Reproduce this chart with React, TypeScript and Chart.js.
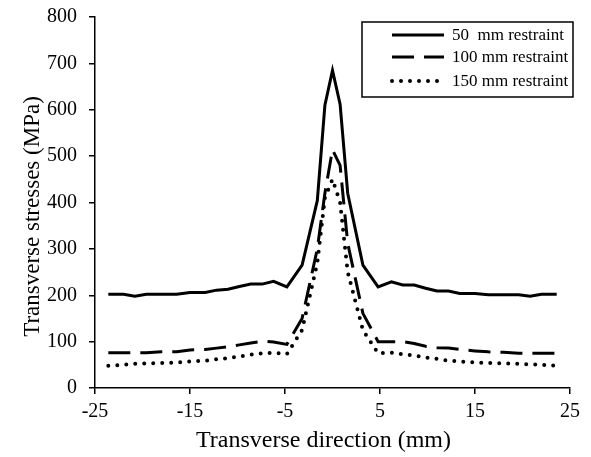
import { useEffect, useRef } from 'react';
import { Chart, registerables } from 'chart.js';

Chart.register(...registerables);

// Transverse position (mm)
const positions = [
  -23.6, -22.0, -20.8, -19.6, -18.0, -16.4, -15.0, -13.4, -12.2, -11.0, -9.8, -8.6, -7.4, -6.2, -4.8, -3.2,
  -1.6, -0.8, 0, 0.8, 1.6, 3.2, 4.8, 6.2, 7.4, 8.6, 9.8, 11.0, 12.2, 13.4, 15.0, 16.4, 18.0, 19.6, 20.8, 22.0,
  23.6,
];
// Transverse stresses (MPa)
const restraint50 = [
  202, 202, 198, 202, 202, 202, 206, 206, 211, 213, 219, 224, 224, 230, 218, 265, 404, 610, 685, 612, 420, 265,
  218, 229, 222, 222, 215, 209, 209, 204, 204, 201, 201, 201, 198, 202, 202,
];
const restraint100 = [
  76, 76, 76, 76, 78, 78, 82, 83, 86, 89, 93, 97, 101, 99, 94, 150, 300, 420, 514, 480, 312, 161, 100, 100, 100,
  96, 90, 87, 86, 83, 80, 78, 77, 75, 75, 75, 75,
];
const restraint150 = [
  48, 50, 52, 53, 54, 55, 57, 59, 62, 64, 68, 72, 75, 76, 73, 125, 270, 410, 450, 400, 250, 125, 75, 76, 73, 70,
  66, 63, 59, 57, 55, 54, 53, 52, 51, 50, 48,
];
const seriesLabels = ['50  mm restraint', '100 mm restraint', '150 mm restraint'];
const xTicks = [-25, -15, -5, 5, 15, 25];
const yTicks = [0, 100, 200, 300, 400, 500, 600, 700, 800];
const xTitle = 'Transverse direction (mm)';
const yTitle = 'Transverse stresses (MPa)';

const FONT = "'Liberation Serif', 'Times New Roman', serif";

const toPoints = (ys: number[]) => positions.map((x, i) => ({ x, y: ys[i] }));

const axisTitles = {
  id: 'axisTitles',
  afterDraw(chart: any) {
    const { ctx, chartArea } = chart;
    ctx.save();
    ctx.fillStyle = '#000';
    ctx.textAlign = 'center';
    ctx.textBaseline = 'middle';
    ctx.font = `24px ${FONT}`;
    ctx.fillText(xTitle, (chartArea.left + chartArea.right) / 2 - 9, chartArea.bottom + 53);
    ctx.translate(chartArea.left - 62, (chartArea.top + chartArea.bottom) / 2 + 14);
    ctx.rotate(-Math.PI / 2);
    ctx.font = `23px ${FONT}`;
    ctx.fillText(yTitle, 0, 0);
    ctx.restore();
  },
};

const boxLegend = {
  id: 'boxLegend',
  afterDraw(chart: any) {
    const { ctx, chartArea } = chart;
    const w = 211;
    const h = 75;
    const left = chartArea.right + 3 - w;
    const top = chartArea.top + 5;
    ctx.save();
    ctx.fillStyle = '#fff';
    ctx.fillRect(left, top, w, h);
    ctx.strokeStyle = '#000';
    ctx.lineWidth = 1.5;
    ctx.setLineDash([]);
    ctx.strokeRect(left, top, w, h);
    const rows = [13, 35, 59];
    chart.data.datasets.forEach((ds: any, i: number) => {
      const y = top + rows[i];
      ctx.beginPath();
      ctx.strokeStyle = '#000';
      ctx.lineWidth = ds.borderWidth;
      ctx.lineCap = ds.borderCapStyle || 'butt';
      ctx.setLineDash(ds.borderDash || []);
      ctx.moveTo(left + 30, y);
      ctx.lineTo(left + 82, y);
      ctx.stroke();
      ctx.setLineDash([]);
      ctx.fillStyle = '#000';
      ctx.font = `17px ${FONT}`;
      ctx.textBaseline = 'middle';
      ctx.textAlign = 'left';
      ctx.fillText(ds.label, left + 90, y + 1);
    });
    ctx.restore();
  },
};

export default function App() {
  const canvasRef = useRef<HTMLCanvasElement | null>(null);

  useEffect(() => {
    document.body.style.margin = '0';
    const canvas = canvasRef.current;
    if (!canvas) return;
    const chart = new Chart(canvas, {
      type: 'line',
      data: {
        datasets: [
          {
            label: seriesLabels[0],
            data: toPoints(restraint50),
            borderColor: '#000',
            borderWidth: 3,
            borderDash: [],
            pointRadius: 0,
            tension: 0,
          },
          {
            label: seriesLabels[1],
            data: toPoints(restraint100),
            borderColor: '#000',
            borderWidth: 3,
            borderDash: [22, 10],
            pointRadius: 0,
            tension: 0,
          },
          {
            label: seriesLabels[2],
            data: toPoints(restraint150),
            borderColor: '#000',
            borderWidth: 4,
            borderDash: [0, 9],
            borderCapStyle: 'round',
            pointRadius: 0,
            tension: 0,
          },
        ],
      },
      options: {
        responsive: false,
        animation: false,
        layout: { padding: { top: 17, right: 21, left: 0, bottom: 0 } },
        plugins: { legend: { display: false }, tooltip: { enabled: false } },
        scales: {
          x: {
            type: 'linear',
            min: -25,
            max: 25,
            afterBuildTicks: (s: any) => {
              s.ticks = xTicks.map((v) => ({ value: v }));
            },
            afterFit: (s: any) => {
              s.height = 69;
              s.paddingLeft = 0;
              s.paddingRight = 0;
            },
            grid: { drawOnChartArea: false, drawTicks: true, tickLength: 6, color: '#000', lineWidth: 1.5 },
            border: { color: '#000', width: 1.5 },
            ticks: {
              color: '#000',
              font: { family: FONT, size: 20 },
              padding: 6,
              maxRotation: 0,
              autoSkip: false,
            },
            title: { display: false },
          },
          y: {
            type: 'linear',
            min: 0,
            max: 800,
            afterBuildTicks: (s: any) => {
              s.ticks = yTicks.map((v) => ({ value: v }));
            },
            afterFit: (s: any) => {
              s.width = 95;
              s.paddingTop = 0;
              s.paddingBottom = 0;
            },
            grid: { drawOnChartArea: false, drawTicks: true, tickLength: 6, color: '#000', lineWidth: 1.5 },
            border: { color: '#000', width: 1.5 },
            ticks: { color: '#000', font: { family: FONT, size: 20 }, padding: 12, autoSkip: false },
            title: { display: false },
          },
        },
      },
      plugins: [axisTitles, boxLegend],
    } as any);
    return () => chart.destroy();
  }, []);

  return (
    <div style={{ width: 591, height: 457, background: '#fff' }}>
      <canvas ref={canvasRef} width={591} height={457} style={{ display: 'block', width: 591, height: 457 }} />
    </div>
  );
}
